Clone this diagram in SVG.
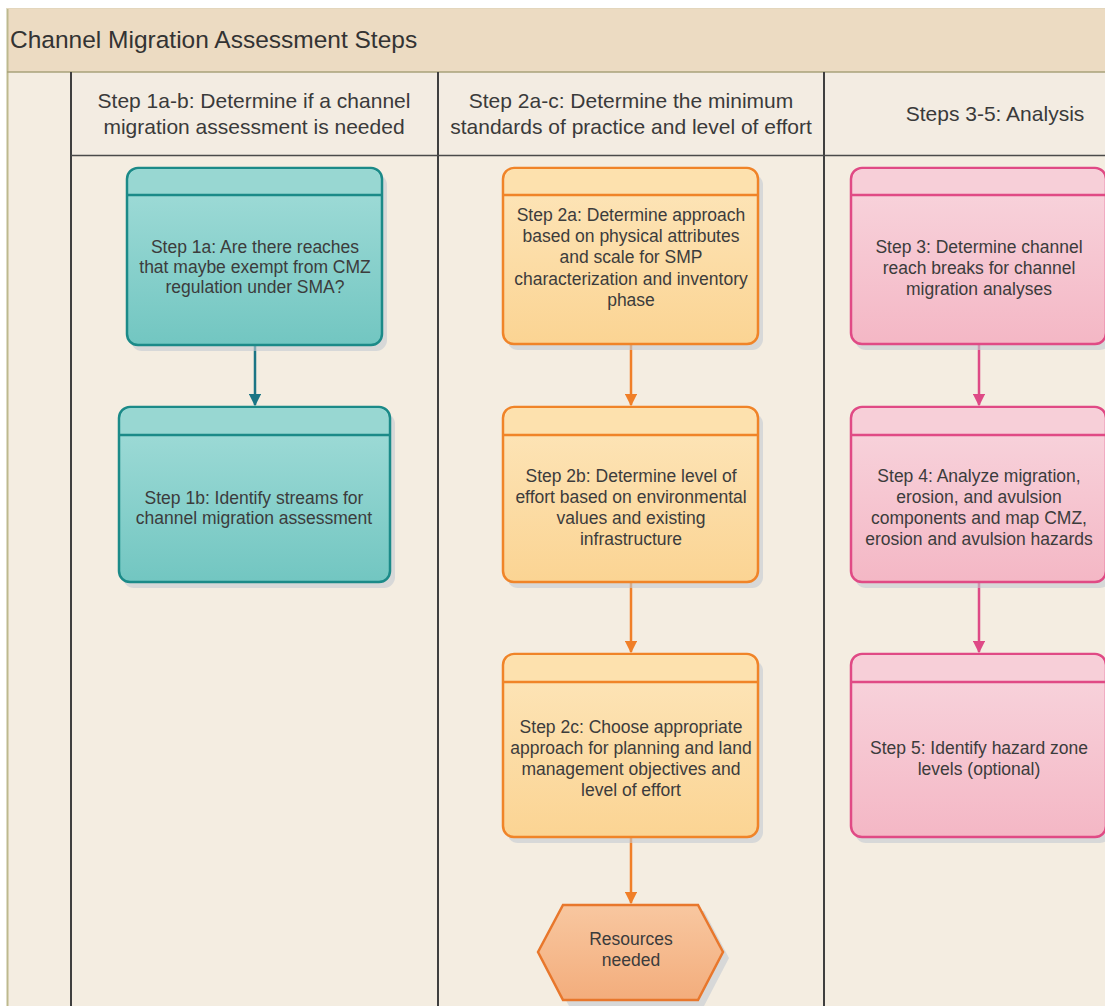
<svg xmlns="http://www.w3.org/2000/svg" width="1105" height="1006" viewBox="0 0 1105 1006">
<defs>
<linearGradient id="gTeal" x1="0" y1="0" x2="0" y2="1"><stop offset="0" stop-color="#a3ddd9"/><stop offset="1" stop-color="#72c6c1"/></linearGradient>
<linearGradient id="gOrange" x1="0" y1="0" x2="0" y2="1"><stop offset="0" stop-color="#fde6bb"/><stop offset="1" stop-color="#fbd493"/></linearGradient>
<linearGradient id="gPink" x1="0" y1="0" x2="0" y2="1"><stop offset="0" stop-color="#f8d6de"/><stop offset="1" stop-color="#f4b7c5"/></linearGradient>
<linearGradient id="gHex" x1="0" y1="0" x2="0" y2="1"><stop offset="0" stop-color="#f8c7a0"/><stop offset="1" stop-color="#f3ad7c"/></linearGradient>
<marker id="aTeal" viewBox="0 0 10 10" refX="9" refY="5" markerWidth="5" markerHeight="5" orient="auto"><path d="M0,0 L10,5 L0,10 z" fill="#1b7585"/></marker>
<marker id="aOrange" viewBox="0 0 10 10" refX="9" refY="5" markerWidth="5" markerHeight="5" orient="auto"><path d="M0,0 L10,5 L0,10 z" fill="#f07f28"/></marker>
<marker id="aPink" viewBox="0 0 10 10" refX="9" refY="5" markerWidth="5" markerHeight="5" orient="auto"><path d="M0,0 L10,5 L0,10 z" fill="#de4a86"/></marker>
</defs>
<style>
.title{font-family:"Liberation Sans",Arial,sans-serif;font-size:24.5px;fill:#333}
.hdr{font-family:"Liberation Sans",Arial,sans-serif;font-size:21px;fill:#3a3a3a;text-anchor:middle}
.txt{font-family:"Liberation Sans",Arial,sans-serif;font-size:17.5px;fill:#3c3c3c;text-anchor:middle}
.shadow{fill:#c3c9d2;opacity:.6}
.teal{fill:url(#gTeal);stroke:#1b8a88;stroke-width:2.5}
.tealH{fill:#98d7d2}
.tealL{stroke:#1b8a88;stroke-width:2.5}
.orange{fill:url(#gOrange);stroke:#f08428;stroke-width:2.5}
.orangeH{fill:#fde1ae}
.orangeL{stroke:#f08428;stroke-width:2.5}
.pink{fill:url(#gPink);stroke:#e04a85;stroke-width:2.5}
.pinkH{fill:#f7cfd8}
.pinkL{stroke:#e04a85;stroke-width:2.5}
.lane{stroke:#3f3f3f;stroke-width:2;fill:none}
</style>
<rect x="0" y="0" width="1105" height="1006" fill="#ffffff"/>
<rect x="7" y="8" width="1098" height="998" fill="#f4ede1"/>
<rect x="7" y="8" width="1098" height="64" fill="#ecdbc2"/>
<rect x="71" y="72" width="1034" height="83" fill="#f3ece2"/>
<line x1="7.5" y1="8" x2="7.5" y2="1006" stroke="#bdb98e" stroke-width="2"/>
<line x1="7" y1="8.5" x2="1105" y2="8.5" stroke="#e3d6bc" stroke-width="1"/>
<line x1="7" y1="72" x2="1105" y2="72" stroke="#a8a27a" stroke-width="1.5"/>
<line class="lane" x1="71" y1="72" x2="71" y2="1006"/>
<line class="lane" x1="438" y1="72" x2="438" y2="1006"/>
<line class="lane" x1="824" y1="72" x2="824" y2="1006"/>
<line x1="71" y1="155.5" x2="1105" y2="155.5" stroke="#4a4a4a" stroke-width="1.5"/>
<text class="title" x="10" y="48">Channel Migration Assessment Steps</text>
<text class="hdr" x="254" y="108">Step 1a-b: Determine if a channel</text>
<text class="hdr" x="254" y="134">migration assessment is needed</text>
<text class="hdr" x="631" y="108">Step 2a-c: Determine the minimum</text>
<text class="hdr" x="631" y="134">standards of practice and level of effort</text>
<text class="hdr" x="995" y="121">Steps 3-5: Analysis</text>

<g id="connectors" fill="none" stroke-width="2.5">
<line x1="255" y1="345" x2="255" y2="405" stroke="#1b7585" marker-end="url(#aTeal)"/>
<line x1="631" y1="344" x2="631" y2="405" stroke="#f07f28" marker-end="url(#aOrange)"/>
<line x1="631" y1="582" x2="631" y2="652" stroke="#f07f28" marker-end="url(#aOrange)"/>
<line x1="631" y1="837" x2="631" y2="903" stroke="#f07f28" marker-end="url(#aOrange)"/>
<line x1="979" y1="344" x2="979" y2="405" stroke="#de4a86" marker-end="url(#aPink)"/>
<line x1="979" y1="582" x2="979" y2="652" stroke="#de4a86" marker-end="url(#aPink)"/>
</g>

<g id="step1a">
<rect class="shadow" x="131" y="174" width="256" height="177" rx="11"/>
<rect class="teal" x="127" y="168" width="255" height="177" rx="11"/>
<path class="tealH" d="M129,194 V179 a10,10 0 0 1 10,-10 H370 a10,10 0 0 1 10,10 V194 z"/>
<line class="tealL" x1="127" y1="195" x2="382" y2="195"/>
<text class="txt" x="255" y="253">Step 1a: Are there reaches</text>
<text class="txt" x="255" y="273">that maybe exempt from CMZ</text>
<text class="txt" x="255" y="293">regulation under SMA?</text>
</g>
<g id="step1b">
<rect class="shadow" x="123" y="413" width="272" height="175" rx="11"/>
<rect class="teal" x="119" y="407" width="271" height="175" rx="11"/>
<path class="tealH" d="M121,434 V418 a10,10 0 0 1 10,-10 H378 a10,10 0 0 1 10,10 V434 z"/>
<line class="tealL" x1="119" y1="435" x2="390" y2="435"/>
<text class="txt" x="254" y="504">Step 1b: Identify streams for</text>
<text class="txt" x="254" y="524">channel migration assessment</text>
</g>

<g id="step2a">
<rect class="shadow" x="507" y="174" width="256" height="176" rx="11"/>
<rect class="orange" x="503" y="168" width="255" height="176" rx="11"/>
<path class="orangeH" d="M505,194 V179 a10,10 0 0 1 10,-10 H746 a10,10 0 0 1 10,10 V194 z"/>
<line class="orangeL" x1="503" y1="195" x2="758" y2="195"/>
<text class="txt" x="631" y="221">Step 2a: Determine approach</text>
<text class="txt" x="631" y="242">based on physical attributes</text>
<text class="txt" x="631" y="263">and scale for SMP</text>
<text class="txt" x="631" y="285">characterization and inventory</text>
<text class="txt" x="631" y="306">phase</text>
</g>
<g id="step2b">
<rect class="shadow" x="507" y="413" width="256" height="175" rx="11"/>
<rect class="orange" x="503" y="407" width="255" height="175" rx="11"/>
<path class="orangeH" d="M505,434 V418 a10,10 0 0 1 10,-10 H746 a10,10 0 0 1 10,10 V434 z"/>
<line class="orangeL" x1="503" y1="435" x2="758" y2="435"/>
<text class="txt" x="631" y="482">Step 2b: Determine level of</text>
<text class="txt" x="631" y="503">effort based on environmental</text>
<text class="txt" x="631" y="524">values and existing</text>
<text class="txt" x="631" y="545">infrastructure</text>
</g>
<g id="step2c">
<rect class="shadow" x="507" y="660" width="256" height="183" rx="11"/>
<rect class="orange" x="503" y="654" width="255" height="183" rx="11"/>
<path class="orangeH" d="M505,681 V665 a10,10 0 0 1 10,-10 H746 a10,10 0 0 1 10,10 V681 z"/>
<line class="orangeL" x1="503" y1="682" x2="758" y2="682"/>
<text class="txt" x="631" y="733">Step 2c: Choose appropriate</text>
<text class="txt" x="631" y="754">approach for planning and land</text>
<text class="txt" x="631" y="775">management objectives and</text>
<text class="txt" x="631" y="796">level of effort</text>
</g>
<g id="resources">
<polygon points="544,958 569,911 704,911 729,958 704,1006 569,1006" class="shadow"/>
<polygon points="538,952 563,905 698,905 723,952 698,1000 563,1000" fill="url(#gHex)" stroke="#e8772c" stroke-width="2.5"/>
<text class="txt" x="631" y="945">Resources</text>
<text class="txt" x="631" y="966">needed</text>
</g>

<g id="step3">
<rect class="shadow" x="855" y="174" width="256" height="176" rx="11"/>
<rect class="pink" x="851" y="168" width="255" height="176" rx="11"/>
<path class="pinkH" d="M853,194 V179 a10,10 0 0 1 10,-10 H1094 a10,10 0 0 1 10,10 V194 z"/>
<line class="pinkL" x1="851" y1="195" x2="1106" y2="195"/>
<text class="txt" x="979" y="253">Step 3: Determine channel</text>
<text class="txt" x="979" y="274">reach breaks for channel</text>
<text class="txt" x="979" y="295">migration analyses</text>
</g>
<g id="step4">
<rect class="shadow" x="855" y="413" width="256" height="175" rx="11"/>
<rect class="pink" x="851" y="407" width="255" height="175" rx="11"/>
<path class="pinkH" d="M853,434 V418 a10,10 0 0 1 10,-10 H1094 a10,10 0 0 1 10,10 V434 z"/>
<line class="pinkL" x1="851" y1="435" x2="1106" y2="435"/>
<text class="txt" x="979" y="482">Step 4: Analyze migration,</text>
<text class="txt" x="979" y="503">erosion, and avulsion</text>
<text class="txt" x="979" y="524">components and map CMZ,</text>
<text class="txt" x="979" y="545">erosion and avulsion hazards</text>
</g>
<g id="step5">
<rect class="shadow" x="855" y="660" width="256" height="183" rx="11"/>
<rect class="pink" x="851" y="654" width="255" height="183" rx="11"/>
<path class="pinkH" d="M853,681 V665 a10,10 0 0 1 10,-10 H1094 a10,10 0 0 1 10,10 V681 z"/>
<line class="pinkL" x1="851" y1="682" x2="1106" y2="682"/>
<text class="txt" x="979" y="754">Step 5: Identify hazard zone</text>
<text class="txt" x="979" y="775">levels (optional)</text>
</g>
</svg>
